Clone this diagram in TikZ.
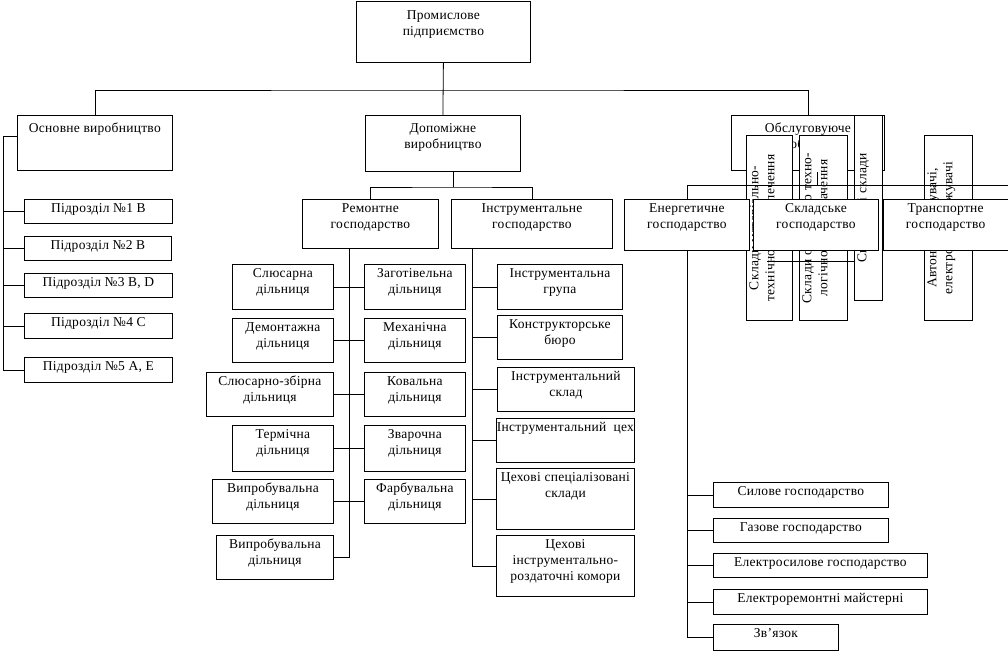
\documentclass[tikz,border=0pt]{standalone}
\usepackage{fontspec}
\setmainfont[LetterSpace=2]{Liberation Serif}
\begin{document}
\begin{tikzpicture}[x=1pt,y=-1pt,
  bxs/.style={draw,line width=0.8pt,fill=white,inner sep=0pt,anchor=north west},
  txt/.style={anchor=north,align=center,inner sep=0pt,font=\fontsize{13.5}{16}\selectfont},
  rtxt/.style={txt,rotate=90},
  ln/.style={line width=0.8pt}]
\newcommand\bx[7][2.3]{%
  \node[bxs,minimum width=#5pt,minimum height=#6pt] (#2) at (#3,#4) {};
  \node[txt] at ([yshift=-#1pt]#2.north) {\strut #7};}
\newcommand\rbx[6]{%
  \node[bxs,minimum width=#4pt,minimum height=#5pt] (#1) at (#2,#3) {};
  \node[rtxt] at ([xshift=1pt]#1.west) {\strut #6};}
\useasboundingbox (0,0) rectangle (1008,651);
\fill[white] (0,0) rectangle (1008,651);
% top level
\bx[7.3]{prom}{356}{1}{174}{61}{Промислове\\підприємство}
\bx[6.3]{osn}{17}{115}{155}{55}{Основне виробництво}
\bx[6.3]{dop}{365}{115}{155}{56}{Допоміжне\\виробництво}
\bx[6.3]{obs}{731}{115}{153}{55}{Обслуговуюче\\виробництво}
\coordinate (tb) at (443,90);
\draw[ln] (prom.south) -- (dop.north);
\draw[ln] (osn.north) |- (tb) -| (obs.north);
% main production
\bx{p1}{24}{199}{148}{24}{Підрозділ №1 B}
\bx{p2}{24}{236}{147}{24}{Підрозділ №2 B}
\bx{p3}{24}{273}{148}{24}{Підрозділ №3 B, D}
\bx{p4}{24}{313}{148}{25}{Підрозділ №4 C}
\bx{p5}{24}{357}{148}{25}{Підрозділ №5 A, E}
\coordinate (ltop) at (3,136);
\coordinate (lbot) at (3,370);
\draw[ln] (ltop) -- (ltop -| osn.west);
\draw[ln] (ltop) -- (lbot);
\foreach \p in {p1,p2,p3,p4,p5} \draw[ln] (\p.west) -- (\p.west -| ltop);
% auxiliary production
\bx{rem}{302}{199}{136}{49}{Ремонтне\\господарство}
\bx{ins}{451}{199}{161}{49}{Інструментальне\\господарство}
\coordinate (db) at (453,187);
\draw[ln] (db |- dop.south) -- (db);
\draw[ln] (rem.north) |- (db) -| (ins.north);
% repair sections
\bx{l1}{232}{264}{101}{45}{Слюсарна\\дільниця}
\bx{l2}{232}{318}{101}{44}{Демонтажна\\дільниця}
\bx{l3}{206}{372}{127}{44}{Слюсарно-збірна\\дільниця}
\bx{l4}{232}{425}{101}{46}{Термічна\\дільниця}
\bx{l5}{212}{479}{121}{44}{Випробувальна\\дільниця}
\bx{l6}{216}{535}{117}{44}{Випробувальна\\дільниця}
\bx{r1}{364}{264}{101}{45}{Заготівельна\\дільниця}
\bx{r2}{364}{318}{101}{44}{Механічна\\дільниця}
\bx{r3}{364}{372}{101}{44}{Ковальна\\дільниця}
\bx{r4}{364}{425}{101}{46}{Зварочна\\дільниця}
\bx{r5}{364}{479}{101}{44}{Фарбувальна\\дільниця}
\coordinate (rt) at (349,248);
\draw[ln] (rt) |- (l6.east);
\foreach \n in {1,2,3,4,5} \draw[ln] (l\n.east) -- (r\n.west);
% tool sections
\bx{i1}{497}{264}{125}{45}{Інструментальна\\група}
\bx{i2}{497}{315}{125}{44}{Конструкторське\\бюро}
\bx{i3}{497}{367}{137}{44}{Інструментальний\\склад}
\bx{i4}{496}{418}{138}{44}{Інструментальний\ \ цех}
\bx{i5}{496}{468}{138}{61}{Цехові спеціалізовані\\склади}
\bx{i6}{496}{535}{138}{61}{Цехові\\інструментально-\\роздаточні комори}
\coordinate (it) at (472,248);
\draw[ln] (it) |- (i6.west);
\foreach \n in {1,2,3,4,5} \draw[ln] (i\n.west) -- (i\n.west -| it);
% service: overlapping rotated boxes
\rbx{sA}{746}{135}{46}{185}{Склади матеріально-\\технічного забезпечення}
\rbx{sB}{799}{135}{48}{185}{Склади основного техно-\\логічного призначення}
\rbx{sC}{854}{115}{28}{185}{Спеціальні склади}
\rbx{sD}{924}{135}{48}{185}{Автонавантажувачі,\\електронавантажувачі}
\bx{en}{624}{199}{125}{51}{Енергетичне\\господарство}
\bx{skl}{753}{199}{125}{51}{Складське\\господарство}
\bx{tr}{883}{199}{124.5}{51}{Транспортне\\господарство}
\coordinate (busR) at (1008,185);
\coordinate (st) at (817,172);
\coordinate (m1) at (767,261);
\coordinate (m2) at (855,261);
\draw[ln] (en.north) |- (busR);
\draw[ln] (st) -- (st |- busR);
\draw[ln] (m1) -- (m2);
% energy
\bx{e1}{713}{482}{175}{25}{Силове господарство}
\bx{e2}{713}{518}{175}{24}{Газове господарство}
\bx{e3}{713}{553}{214}{24}{Електросилове господарство}
\bx{e4}{713}{589}{214}{25}{Електроремонтні майстерні}
\bx{e5}{713}{624}{125}{26}{Зв’язок}
\draw[ln] (en.south) |- (e5.west);
\foreach \n in {1,2,3,4} \draw[ln] (e\n.west) -- (e\n.west -| en.south);
\end{tikzpicture}
\end{document}
